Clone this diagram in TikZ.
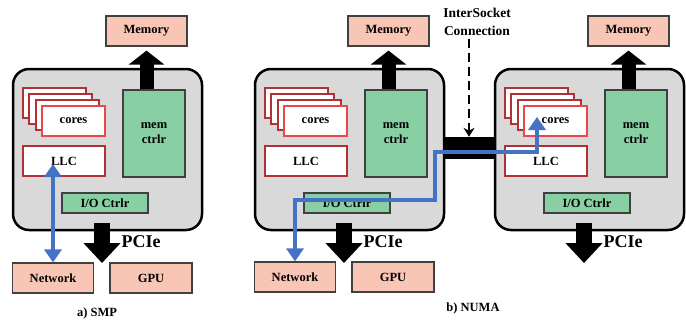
\documentclass[tikz,border=0pt]{standalone}
\usepackage{fontspec}
\setmainfont{Liberation Serif}
\usetikzlibrary{arrows.meta,calc}
\definecolor{salmon}{HTML}{F9C5B5}
\definecolor{mint}{HTML}{88D0A4}
\definecolor{sockgray}{HTML}{D9D9D9}
\definecolor{edgegray}{HTML}{404040}
\definecolor{darkred}{HTML}{B03034}
\definecolor{brightred}{HTML}{E8484C}
\definecolor{linkblue}{HTML}{4472C4}
\tikzset{
  lbl/.style={font=\bfseries\fontsize{12.5}{15}\selectfont},
  pinkbox/.style={lbl, draw=edgegray, fill=salmon, line width=1.2pt, minimum width=81pt, minimum height=30pt, inner sep=0pt},
  greenbox/.style={lbl, draw=edgegray, fill=mint, line width=1.2pt, inner sep=0pt, align=center},
  sockbox/.style={draw=black, fill=sockgray, line width=2.5pt, rounded corners=16pt, minimum width=189pt, minimum height=161pt, inner sep=0pt},
  coreback/.style={draw=darkred, fill=white, line width=2pt, minimum width=63pt, minimum height=30pt, inner sep=0pt},
  corefront/.style={lbl, draw=brightred, fill=white, line width=2pt, minimum width=63pt, minimum height=30pt, inner sep=0pt},
  llcbox/.style={lbl, draw=darkred, fill=white, line width=2pt, minimum width=82pt, minimum height=30pt, inner sep=0pt},
  memarrow/.style={line width=14pt, -{Triangle[width=35pt,length=14pt]}},
  pciearrow/.style={line width=16pt, -{Triangle[width=36pt,length=20pt]}},
  pcielbl/.style={font=\bfseries\fontsize{18}{20}\selectfont, inner sep=0pt},
  bluelink/.style={draw=linkblue, line width=3.5pt, {Triangle[width=17pt,length=13pt]}-{Triangle[width=17pt,length=13pt]}},
  caption/.style={font=\bfseries\fontsize{12.5}{14}\selectfont, inner sep=0pt}
}
\newcommand\socketdraw[2]{%
  \begin{scope}[xshift=#2pt]
    \node[pinkbox] (#1mem) at (146.5,31) {Memory};
    \node[sockbox] (#1box) at (107.5,149.5) {};
    \node[greenbox, minimum width=62pt, minimum height=87pt] (#1mc) at (154,133.5) {mem\\ctrlr};
    \draw[memarrow] (#1mc.north -| #1mem.south) -- ([yshift=-4pt]#1mem.south);
    \node[coreback] (#1c3) at (54.6,103) {};
    \node[coreback] (#1c2) at (60.9,109) {};
    \node[coreback] (#1c1) at (67.2,115) {};
    \node[corefront] (#1cores) at (73.5,121) {cores};
    \node[llcbox] (#1llc) at (64,161) {LLC};
    \node[greenbox, minimum width=86pt, minimum height=20pt] (#1io) at (105,203) {I/O Ctrlr};
    \coordinate (#1pt) at (102,223);
    \coordinate (#1pb) at (102,263);
    \draw[pciearrow] (#1pt) -- (#1pb);
    \node[pcielbl] (#1pcie) at (141,242) {PCIe};
  \end{scope}}
\begin{document}
\begin{tikzpicture}[x=1pt,y=-1pt]
\useasboundingbox (0,0) rectangle (686,322);
% SMP
\socketdraw{A}{0}
\node[pinkbox] (Anet) at (53,278) {Network};
\node[pinkbox, minimum width=82pt] (Agpu) at (151,278) {GPU};
\draw[bluelink] (Anet.north) -- ([yshift=-3pt]Anet.north |- Allc.center);
\node[caption] (capA) at (97,313) {a) SMP};
% NUMA
\socketdraw{B}{242}
\socketdraw{C}{482}
\node[pinkbox] (Bnet) at (295,277) {Network};
\node[pinkbox, minimum width=82pt] (Bgpu) at (393,277) {GPU};
\node[fill=black, minimum width=52pt, minimum height=22pt, inner sep=0pt] (bar) at (469,148) {};
\node[lbl, font=\bfseries\fontsize{13.5}{18}\selectfont, align=center, inner sep=0pt] (isc) at (477,22) {InterSocket\\Connection};
\draw[line width=1.5pt, dash pattern=on 9pt off 5pt, -{Stealth[length=9pt,width=11pt]}] (bar.north |- isc.south) ++(0,3) -- (bar.north);
\coordinate (j1) at (435,200);
\coordinate (j2) at (435,152);
\coordinate (cT) at (537,117);
\draw[bluelink] (Bnet.north) -- (Bnet.north |- j1) -- (j1) -- (j2) -- (j2 -| cT) -- (cT);
\node[caption] (capB) at (473,308) {b) NUMA};
\end{tikzpicture}
\end{document}
